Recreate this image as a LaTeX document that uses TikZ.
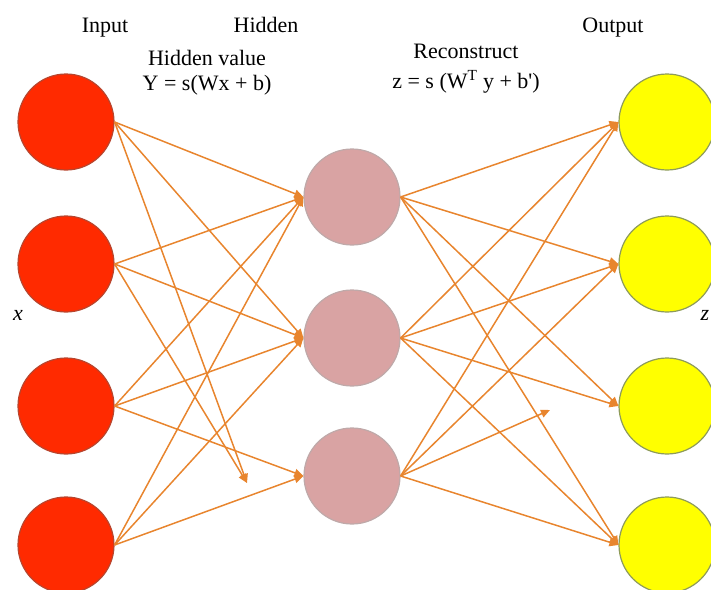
\documentclass[tikz,border=0pt]{standalone}
\usepackage{fontspec}
\setmainfont{Liberation Serif}
\newfontfamily\plainrm{Liberation Serif}[Ligatures=TeXOff]
\usepackage{xcolor}
\usepackage{tikz}
\usetikzlibrary{arrows.meta}
\definecolor{inred}{HTML}{FF2A00}
\definecolor{inrim}{HTML}{B8452E}
\definecolor{hidpink}{HTML}{D9A3A3}
\definecolor{hidrim}{HTML}{BFA9A9}
\definecolor{outyellow}{HTML}{FFFF00}
\definecolor{outrim}{HTML}{8E9B5A}
\definecolor{linkorange}{HTML}{E8852E}

\begin{document}
\begin{tikzpicture}[x=1pt, y=-1pt,
    font=\fontsize{22}{26}\selectfont,
    neuron/.style={circle, minimum size=96pt, inner sep=0pt, line width=1.2pt},
    link/.style={draw=linkorange, line width=1.5pt, -{Triangle[length=9pt,width=8pt]}}]
  \useasboundingbox (0,0) rectangle (711,589);

  % headings
  \node[anchor=base] (lblin)  at (105,32) {Input};
  \node[anchor=base] (lblhid) at (266,32) {Hidden};
  \node[anchor=base] (lblout) at (613,32) {Output};
  \node[anchor=base] (encname) at (207,65) {Hidden value};
  \node[anchor=base] (encform) at (207,90) {Y = s(Wx + b)};
  \node[anchor=base] (decname) at (466,58) {Reconstruct};
  \node[anchor=base] (decform) at (466,88) {\plainrm z = s (W\textsuperscript{T} y + b')};
  \node[anchor=base] (vecx) at (18,320) {\textit{x}};
  \node[anchor=base] (vecz) at (705,320) {\textit{z}};

  % layers
  \node[neuron, fill=inred, draw=inrim] (in1) at (66,122) {};
  \node[neuron, fill=inred, draw=inrim] (in2) at (66,264) {};
  \node[neuron, fill=inred, draw=inrim] (in3) at (66,406) {};
  \node[neuron, fill=inred, draw=inrim] (in4) at (66,545) {};
  \node[neuron, fill=hidpink, draw=hidrim] (hid1) at (352,197) {};
  \node[neuron, fill=hidpink, draw=hidrim] (hid2) at (352,338) {};
  \node[neuron, fill=hidpink, draw=hidrim] (hid3) at (352,476) {};
  \node[neuron, fill=outyellow, draw=outrim] (out1) at (667,122) {};
  \node[neuron, fill=outyellow, draw=outrim] (out2) at (667,264) {};
  \node[neuron, fill=outyellow, draw=outrim] (out3) at (667,406) {};
  \node[neuron, fill=outyellow, draw=outrim] (out4) at (667,545) {};
  \coordinate (stubL) at (247,483);
  \coordinate (stubR) at (550,410);

  % connections
  \foreach \a/\b in {in1/hid1, in1/hid2, in2/hid1, in2/hid2,
                     in3/hid1, in3/hid2, in3/hid3, in4/hid1, in4/hid2, in4/hid3}
    \draw[link] (\a.east) -- (\b.west);
  \draw[link] (in1.east) -- (stubL);
  \draw[link] (in2.east) -- (stubL);
  \foreach \a/\b in {hid1/out1, hid1/out2, hid1/out3, hid1/out4,
                     hid2/out1, hid2/out2, hid2/out3, hid2/out4,
                     hid3/out1, hid3/out2, hid3/out4}
    \draw[link] (\a.east) -- (\b.west);
  \draw[link] (hid3.east) -- (stubR);
\end{tikzpicture}
\end{document}
